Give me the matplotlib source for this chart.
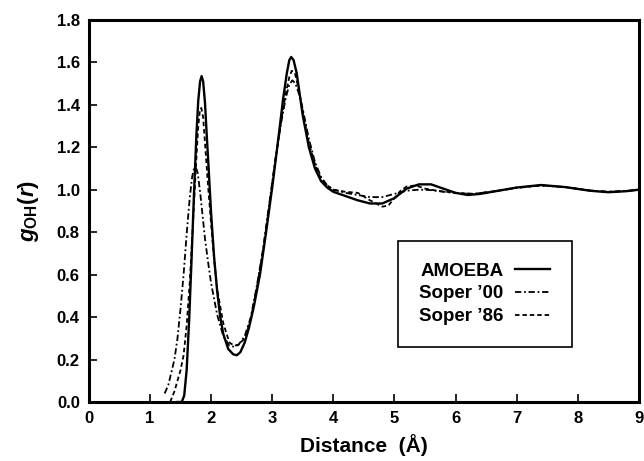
import numpy as np
import matplotlib
matplotlib.use("Agg")
from matplotlib import pyplot as plt

plt.rcParams['font.family'] = ['Liberation Sans', 'DejaVu Sans']
plt.rcParams['font.weight'] = 'bold'
plt.rcParams['mathtext.fontset'] = 'custom'
plt.rcParams['mathtext.rm'] = 'Liberation Sans:bold'
plt.rcParams['mathtext.it'] = 'Liberation Sans:bold:italic'
plt.rcParams['mathtext.bf'] = 'Liberation Sans:bold'

# AMOEBA
r_amoeba = [1.45, 1.52, 1.56, 1.60, 1.64, 1.68, 1.72, 1.76, 1.79, 1.82, 1.845, 1.87, 1.90,
            1.93, 1.96, 2.00, 2.05, 2.10, 2.15, 2.20, 2.28, 2.36, 2.42, 2.48, 2.55, 2.62,
            2.70, 2.80, 2.90, 3.00, 3.10, 3.18, 3.24, 3.28, 3.31, 3.35, 3.40, 3.45, 3.50,
            3.60, 3.70, 3.80, 3.90, 4.00, 4.20, 4.40, 4.60, 4.80, 5.00, 5.20, 5.40, 5.60,
            5.80, 6.00, 6.20, 6.40, 6.70, 7.00, 7.40, 7.80, 8.20, 8.50, 8.80, 9.00]
g_amoeba = [0.0, 0.0, 0.03, 0.15, 0.38, 0.67, 0.98, 1.26, 1.42, 1.51, 1.535, 1.51, 1.41,
            1.25, 1.10, 0.89, 0.68, 0.52, 0.40, 0.32, 0.25, 0.225, 0.22, 0.235, 0.28, 0.35,
            0.45, 0.60, 0.80, 1.01, 1.24, 1.43, 1.55, 1.61, 1.625, 1.61, 1.55, 1.45, 1.35,
            1.20, 1.10, 1.04, 1.01, 0.99, 0.97, 0.95, 0.935, 0.935, 0.96, 1.005, 1.025, 1.025,
            1.005, 0.985, 0.975, 0.98, 0.995, 1.01, 1.022, 1.012, 0.995, 0.988, 0.993, 1.0]

# Soper '00
r_soper00 = [1.24, 1.30, 1.35, 1.40, 1.45, 1.50, 1.55, 1.60, 1.65, 1.69, 1.72, 1.75, 1.78,
             1.82, 1.86, 1.90, 1.95, 2.00, 2.10, 2.20, 2.30, 2.38, 2.45, 2.55, 2.65,
             2.75, 2.85, 2.95, 3.05, 3.15, 3.22, 3.28, 3.33, 3.38, 3.44, 3.50, 3.60, 3.70,
             3.80, 3.90, 4.00, 4.20, 4.40, 4.60, 4.80, 5.00, 5.20, 5.40, 5.60, 5.80, 6.00,
             6.30, 6.70, 7.00, 7.40, 7.80, 8.20, 8.50, 8.80, 9.00]
g_soper00 = [0.04, 0.08, 0.14, 0.20, 0.30, 0.44, 0.60, 0.79, 0.96, 1.06, 1.10, 1.105, 1.08,
             0.99, 0.88, 0.77, 0.66, 0.56, 0.41, 0.31, 0.265, 0.26, 0.27, 0.31, 0.40,
             0.55, 0.72, 0.93, 1.14, 1.32, 1.43, 1.495, 1.515, 1.50, 1.45, 1.38, 1.24, 1.13,
             1.06, 1.02, 1.0, 0.985, 0.975, 0.965, 0.965, 0.98, 0.995, 1.0, 0.998, 0.99, 0.985,
             0.98, 0.995, 1.008, 1.02, 1.012, 0.996, 0.99, 0.994, 1.0]

# Soper '86
r_soper86 = [1.33, 1.40, 1.45, 1.50, 1.55, 1.60, 1.65, 1.70, 1.75, 1.785, 1.815, 1.84, 1.87,
             1.90, 1.95, 2.00, 2.05, 2.10, 2.20, 2.30, 2.38, 2.45, 2.55, 2.65, 2.75,
             2.85, 2.95, 3.05, 3.15, 3.22, 3.28, 3.32, 3.37, 3.43, 3.50, 3.60, 3.70, 3.80, 3.90,
             4.00, 4.20, 4.40, 4.60, 4.80, 4.90, 5.00, 5.10, 5.20, 5.35, 5.50, 5.70,
             6.00, 6.30, 6.70, 7.00, 7.40, 7.80, 8.20, 8.50, 8.80, 9.00]
g_soper86 = [0.0, 0.05, 0.10, 0.15, 0.22, 0.36, 0.56, 0.82, 1.10, 1.28, 1.37, 1.385, 1.34,
             1.22, 1.02, 0.84, 0.67, 0.53, 0.37, 0.28, 0.265, 0.27, 0.30, 0.39, 0.54,
             0.71, 0.92, 1.13, 1.33, 1.45, 1.53, 1.56, 1.55, 1.48, 1.37, 1.22, 1.12, 1.05, 1.02,
             1.0, 0.99, 0.985, 0.95, 0.92, 0.925, 0.96, 0.995, 1.015, 1.02, 1.005, 0.995,
             0.985, 0.98, 0.995, 1.01, 1.02, 1.012, 0.996, 0.99, 0.994, 1.0]

x_ticks = np.arange(0, 10, 1)
y_ticks = np.arange(0, 1.81, 0.2)

fig = plt.figure(figsize=(6.44, 4.61), dpi=100)
ax = fig.add_axes([0.138, 0.128, 0.854, 0.829])

ax.plot(r_amoeba, g_amoeba, color='black', lw=1.7, label='AMOEBA')
ax.plot(r_soper00, g_soper00, color='black', lw=1.3, dashes=(3.5, 1.5, 1, 1.5), label="Soper \u201900")
ax.plot(r_soper86, g_soper86, color='black', lw=1.3, dashes=(2.5, 1.6), label="Soper \u201986")

ax.set_xlim(0, 9)
ax.set_ylim(0, 1.8)
ax.set_xticks(x_ticks)
ax.set_yticks(y_ticks)
ax.set_yticklabels(['%.1f' % v for v in y_ticks])
ax.tick_params(direction='in', length=6, width=1.2, labelsize=12, pad=6.5)
for s in ax.spines.values():
	s.set_linewidth(2.2)

ax.set_xlabel('Distance  (\u00c5)', fontsize=15, fontweight='bold', labelpad=6)
ax.set_ylabel(r'$g_{\mathrm{OH}}(r)$', fontsize=16, labelpad=11)

leg = ax.legend(loc='center', bbox_to_anchor=(0.72, 0.283), markerfirst=False,
	prop={'weight': 'bold', 'size': 13.5}, handlelength=1.9, handletextpad=0.6,
	labelspacing=0.3, borderpad=1.15, fancybox=False, framealpha=1, edgecolor='black')
leg.get_frame().set_linewidth(1.2)

fig.savefig('out.png', dpi=100)
